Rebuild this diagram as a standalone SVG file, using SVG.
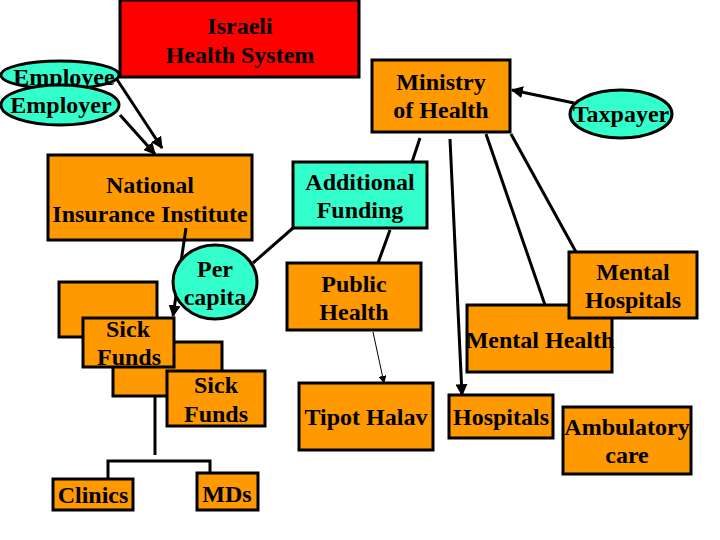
<svg xmlns="http://www.w3.org/2000/svg" width="720" height="540" viewBox="0 0 720 540">
<defs>
<style>
.box{fill:#FF9900;stroke:#000;stroke-width:3}
.red{fill:#FF0000;stroke:#000;stroke-width:3}
.cy{fill:#33FFCC;stroke:#000;stroke-width:3}
text{font-family:"Liberation Serif","Times New Roman",serif;font-weight:bold;font-size:24px;fill:#000;text-anchor:middle}
.ln{stroke:#000;stroke-width:3;fill:none}
.thin{stroke:#000;stroke-width:1;fill:none}
</style>
<marker id="ah" viewBox="0 0 10 10" refX="9" refY="5" markerWidth="4" markerHeight="4" orient="auto" markerUnits="strokeWidth">
<path d="M0,0 L10,5 L0,10 z" fill="#000"/>
</marker>
<marker id="ahs" viewBox="0 0 10 10" refX="9" refY="5" markerWidth="8" markerHeight="8" orient="auto" markerUnits="strokeWidth">
<path d="M0,0 L10,5 L0,10 z" fill="#000"/>
</marker>
</defs>
<rect width="720" height="540" fill="#fff"/>

<g id="israeli">
<rect class="red" x="120" y="0" width="239" height="77"/>
<text x="240" y="34">Israeli</text>
<text x="240" y="63">Health System</text>
</g>

<g id="employee">
<ellipse class="cy" cx="60" cy="75" rx="59" ry="14"/>
<text x="64" y="85">Employee</text>
</g>
<g id="employer">
<ellipse class="cy" cx="60" cy="105" rx="59" ry="20"/>
<text x="61" y="113">Employer</text>
</g>

<g id="nii">
<rect class="box" x="48" y="155" width="204" height="85"/>
<text x="150" y="193">National</text>
<text x="150" y="222">Insurance Institute</text>
</g>

<g id="additional">
<rect class="cy" x="293" y="162" width="134" height="66"/>
<text x="360" y="190">Additional</text>
<text x="360" y="218">Funding</text>
</g>

<g id="ministry">
<rect class="box" x="372" y="60" width="138" height="72"/>
<text x="441" y="90">Ministry</text>
<text x="441" y="118">of Health</text>
</g>

<g id="taxpayer">
<ellipse class="cy" cx="621" cy="114" rx="51" ry="24"/>
<text x="621" y="122">Taxpayer</text>
</g>

<g id="public-health">
<rect class="box" x="287" y="263" width="134" height="67"/>
<text x="354" y="292">Public</text>
<text x="354" y="320">Health</text>
</g>

<g id="mental-health">
<rect class="box" x="467" y="305" width="145" height="67"/>
<text x="540" y="348">Mental Health</text>
</g>

<g id="mental-hospitals">
<rect class="box" x="569" y="252" width="128" height="66"/>
<text x="633" y="280">Mental</text>
<text x="633" y="308">Hospitals</text>
</g>

<g id="tipot-halav">
<rect class="box" x="299" y="383" width="134" height="67"/>
<text x="366" y="425">Tipot Halav</text>
</g>

<g id="hospitals">
<rect class="box" x="449" y="395" width="104" height="43"/>
<text x="501" y="425">Hospitals</text>
</g>

<g id="ambulatory">
<rect class="box" x="563" y="407" width="128" height="67"/>
<text x="627" y="435">Ambulatory</text>
<text x="627" y="463">care</text>
</g>

<g id="sick-funds">
<rect class="box" x="59" y="282" width="98" height="55"/>
<rect class="box" x="113" y="342" width="109" height="54"/>
<rect class="box" x="83" y="318" width="91" height="49"/>
<text x="128" y="337">Sick</text>
<text x="129" y="365">Funds</text>
<rect class="box" x="167" y="371" width="98" height="55"/>
<text x="216" y="393">Sick</text>
<text x="216" y="422">Funds</text>
</g>

<g id="clinics">
<rect class="box" x="53" y="479" width="80" height="31"/>
<text x="93" y="503">Clinics</text>
</g>

<g id="mds">
<rect class="box" x="197" y="473" width="61" height="37"/>
<text x="227" y="502">MDs</text>
</g>

<g id="connectors">
<line class="ln" x1="116" y1="78" x2="162" y2="148" marker-end="url(#ah)"/>
<line class="ln" x1="120" y1="115" x2="155" y2="154" marker-end="url(#ah)"/>
<line class="ln" x1="574" y1="103" x2="512" y2="90" marker-end="url(#ah)"/>
<line class="ln" x1="420" y1="138" x2="412" y2="162"/>
<line class="ln" x1="390" y1="230" x2="378" y2="263"/>
<line class="ln" x1="293" y1="228" x2="253" y2="263"/>
<line class="ln" x1="450" y1="139" x2="462" y2="395" marker-end="url(#ah)"/>
<line class="ln" x1="486" y1="134" x2="545" y2="305"/>
<line class="ln" x1="511" y1="134" x2="576" y2="252"/>
<line class="thin" x1="373" y1="332" x2="384" y2="383" marker-end="url(#ahs)"/>
<line class="ln" x1="186" y1="228" x2="173" y2="316" marker-end="url(#ah)"/>
<line class="ln" x1="155" y1="396" x2="155" y2="455"/>
<polyline class="ln" points="108,479 108,461 210,461 210,473"/>
</g>

<g id="per-capita">
<ellipse class="cy" cx="215" cy="282" rx="42" ry="37"/>
<text x="215" y="277">Per</text>
<text x="215" y="305">capita</text>
</g>
</svg>
